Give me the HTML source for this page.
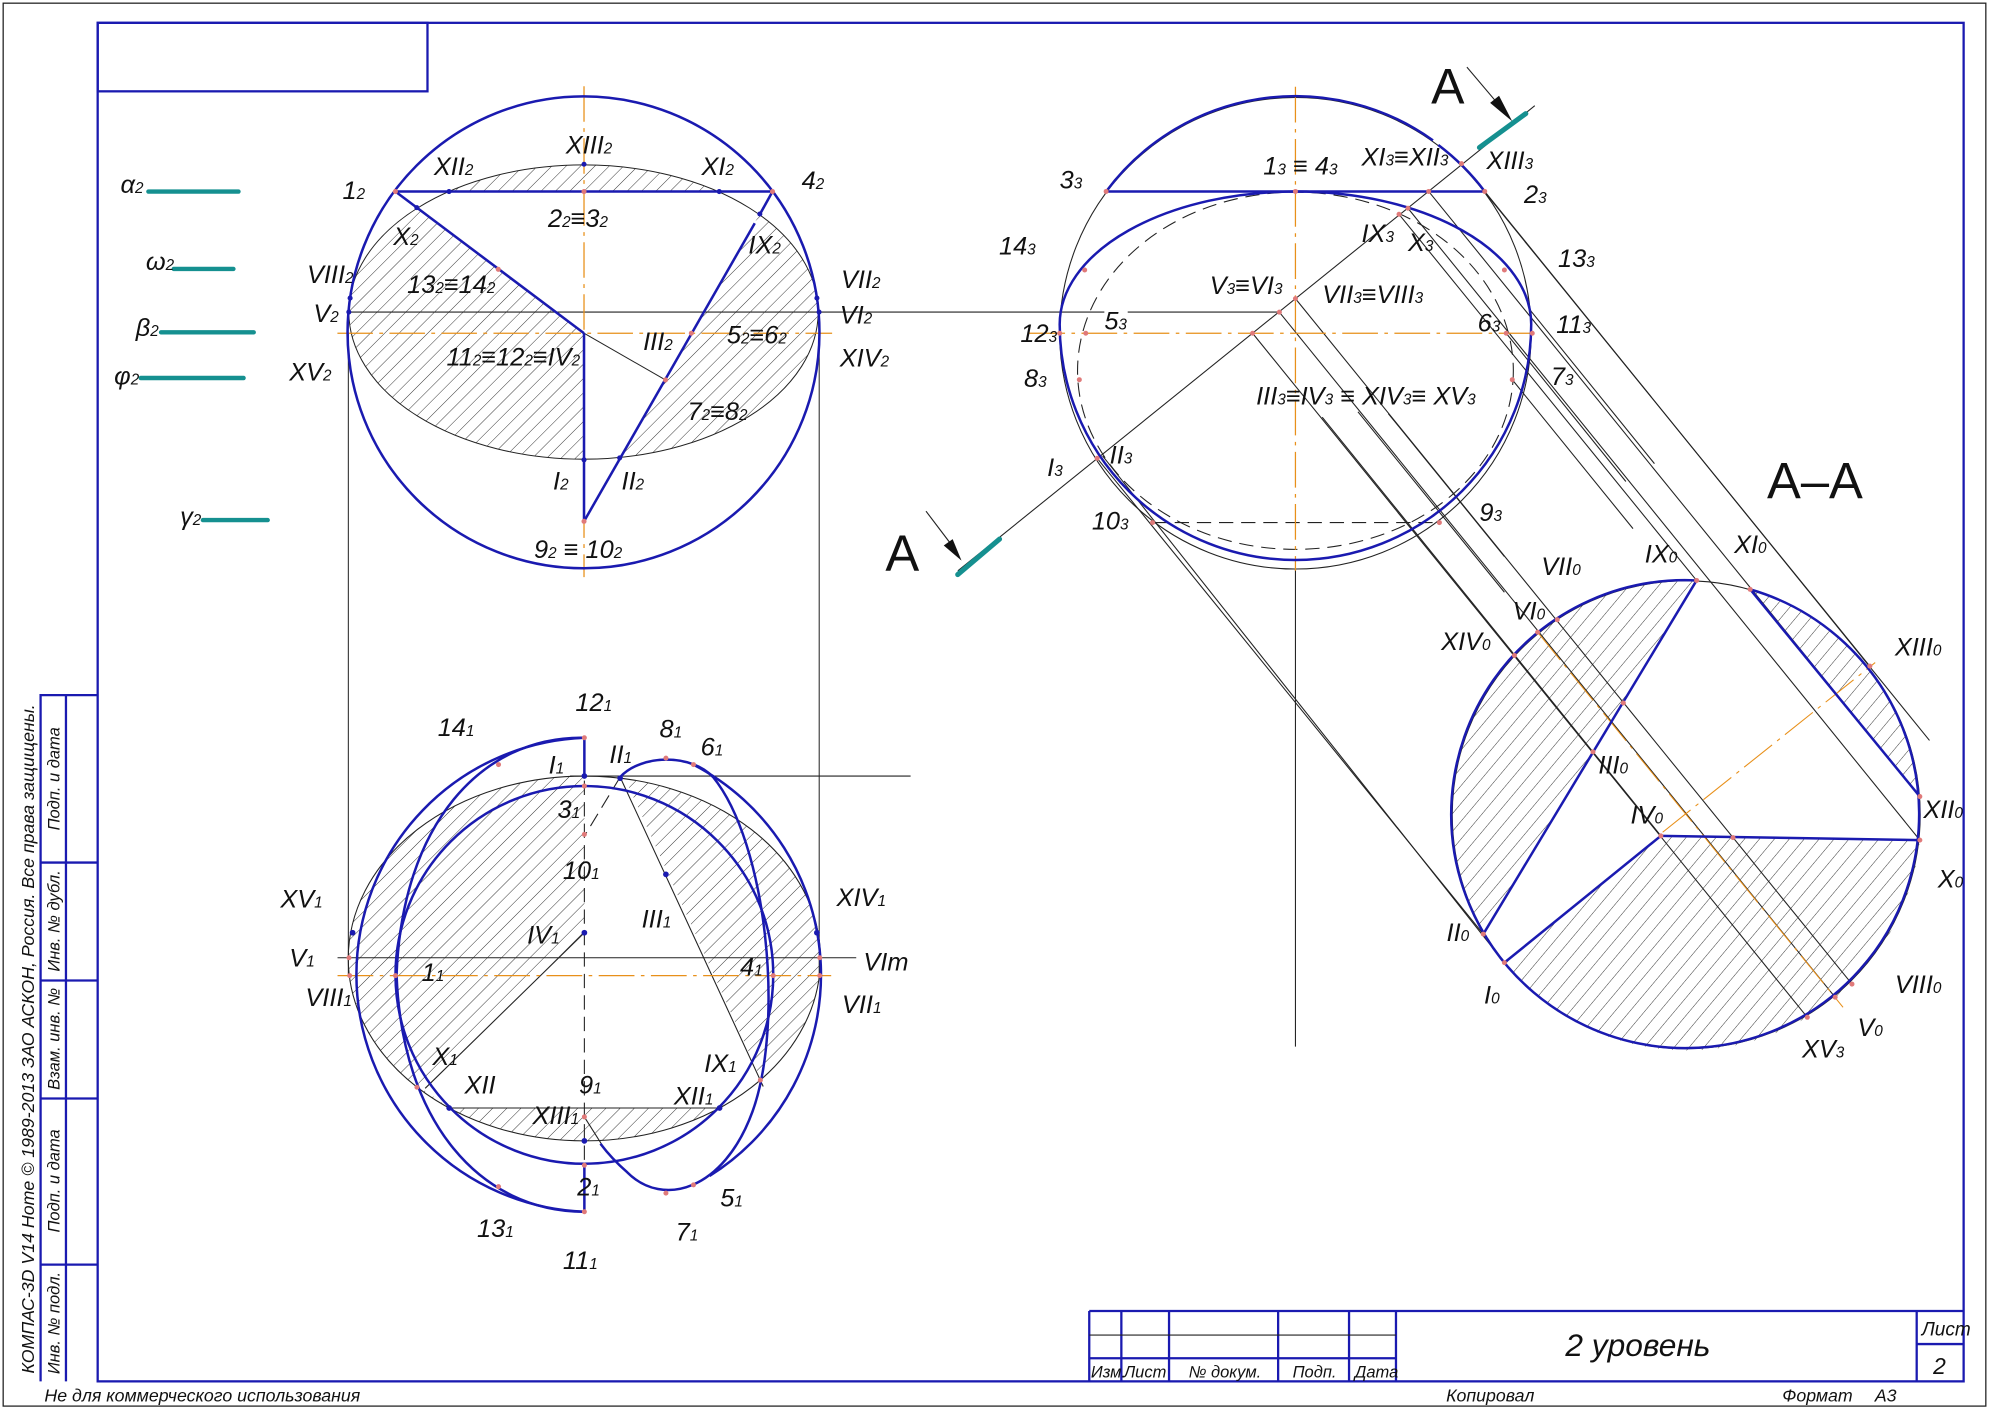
<!DOCTYPE html>
<html><head><meta charset="utf-8">
<style>
html,body{margin:0;padding:0;background:#fff;}
svg{display:block;}
text{font-family:"Liberation Sans Narrow","Liberation Sans",sans-serif;font-style:italic;fill:#111;}
</style></head>
<body>
<svg width="1989" height="1408" viewBox="0 0 1568 1110" preserveAspectRatio="none" xmlns="http://www.w3.org/2000/svg">
<defs>
<pattern id="hd" width="8" height="8" patternUnits="userSpaceOnUse" patternTransform="rotate(45)"><line x1="0" y1="0" x2="0" y2="8" stroke="#222" stroke-width="0.7"/></pattern>
<pattern id="hz" width="28" height="28" patternUnits="userSpaceOnUse" patternTransform="rotate(45)"><line x1="0" y1="0" x2="0" y2="28" stroke="#222" stroke-width="2.5"/></pattern>
<pattern id="hs" width="32" height="32" patternUnits="userSpaceOnUse" patternTransform="rotate(40)"><line x1="0" y1="0" x2="0" y2="32" stroke="#222" stroke-width="2.5"/></pattern>
<clipPath id="fEll"><ellipse cx="460" cy="246" rx="185" ry="116"/></clipPath>
<clipPath id="tEll"><ellipse cx="740" cy="722" rx="660" ry="510"/></clipPath>
<mask id="tMask" maskUnits="userSpaceOnUse" x="-200" y="-200" width="2000" height="2000"><rect x="-200" y="-200" width="2000" height="2000" fill="#fff"/><polygon points="740,200 845,200 1235,1062 1118,1140 362,1140 285,1085 740,650" fill="#000"/></mask>
</defs>
<rect width="1568" height="1110" fill="#fff"/>
<!-- outer thin frame -->
<rect x="2.5" y="2.5" width="1563" height="1106" fill="none" stroke="#222" stroke-width="1"/>
<!-- main blue frame -->
<g stroke="#1a1ab0" stroke-width="1.8" fill="none">
<rect x="77" y="18" width="1471" height="1071"/>
<rect x="77" y="18" width="260" height="54"/>
<!-- left column -->
<polyline points="77,548 32,548 32,1089"/>
<line x1="52" y1="548" x2="52" y2="1089"/>
<line x1="32" y1="680" x2="77" y2="680"/>
<line x1="32" y1="773" x2="77" y2="773"/>
<line x1="32" y1="866" x2="77" y2="866"/>
<line x1="32" y1="997" x2="77" y2="997"/>
<!-- title block -->
<line x1="858.7" y1="1033.5" x2="1548" y2="1033.5"/>
<line x1="858.7" y1="1033.5" x2="858.7" y2="1089"/>
<line x1="884" y1="1033.5" x2="884" y2="1089"/>
<line x1="921.6" y1="1033.5" x2="921.6" y2="1089"/>
<line x1="1007.6" y1="1033.5" x2="1007.6" y2="1089"/>
<line x1="1063.5" y1="1033.5" x2="1063.5" y2="1089"/>
<line x1="1100.5" y1="1033.5" x2="1100.5" y2="1089"/>
<line x1="858.7" y1="1070.8" x2="1100.5" y2="1070.8"/>
<line x1="1511" y1="1033.5" x2="1511" y2="1089"/>
<line x1="1511" y1="1059.6" x2="1548" y2="1059.6"/>
</g>
<line x1="858.7" y1="1052.5" x2="1100.5" y2="1052.5" stroke="#222" stroke-width="0.9"/>
<g font-size="13">
<text x="860" y="1086">Изм.</text><text x="886" y="1086">Лист</text><text x="937" y="1086">№ докум.</text><text x="1019" y="1086">Подп.</text><text x="1068" y="1086">Дата</text>
</g>
<text x="1234" y="1069" font-size="25">2 уровень</text>
<text x="1515" y="1053" font-size="15">Лист</text>
<text x="1524" y="1083" font-size="18">2</text>
<text x="35" y="1105" font-size="14">Не для коммерческого использования</text>
<text x="1140" y="1105" font-size="14">Копировал</text>
<text x="1405" y="1105" font-size="14">Формат</text>
<text x="1478" y="1105" font-size="14">A3</text>
<!-- rotated column texts -->
<g font-size="13" text-anchor="middle">
<text transform="translate(27,819) rotate(-90)" font-size="14">КОМПАС-3D V14 Home © 1989-2013 ЗАО АСКОН, Россия. Все права защищены.</text>
<text transform="translate(47,1043) rotate(-90)">Инв. № подл.</text>
<text transform="translate(47,931) rotate(-90)">Подп. и дата</text>
<text transform="translate(47,819) rotate(-90)">Взам. инв. №</text>
<text transform="translate(47,726) rotate(-90)">Инв. № дубл.</text>
<text transform="translate(47,614) rotate(-90)">Подп. и дата</text>
</g>

<!-- legend -->
<g stroke="#159090" stroke-width="3.5" stroke-linecap="round">
<line x1="117" y1="151" x2="188" y2="151"/>
<line x1="137" y1="212" x2="184" y2="212"/>
<line x1="127" y1="262" x2="200" y2="262"/>
<line x1="111" y1="298" x2="192" y2="298"/>
<line x1="160" y1="410" x2="211" y2="410"/>
</g>
<g font-size="20">
<text x="95" y="152">α<tspan font-size="12">2</tspan></text>
<text x="115" y="213">ω<tspan font-size="12">2</tspan></text>
<text x="107" y="265">β<tspan font-size="12">2</tspan></text>
<text x="90" y="303">φ<tspan font-size="12">2</tspan></text>
<text x="142" y="414">γ<tspan font-size="12">2</tspan></text>
</g>

<!-- ============ FRONT VIEW ============ -->
<g clip-path="url(#fEll)">
<rect x="270" y="100" width="390" height="51" fill="url(#hd)"/>
<polygon points="270,151 311.7,151 460.4,262.7 460.4,380 270,380" fill="url(#hd)"/>
<polygon points="609,151 460.4,411 700,411 700,140" fill="url(#hd)"/>
</g>
<ellipse cx="460" cy="246" rx="185" ry="116" fill="none" stroke="#222" stroke-width="0.8"/>
<line x1="274.6" y1="262" x2="274.6" y2="770" stroke="#222" stroke-width="0.8"/>
<line x1="645.8" y1="246" x2="645.8" y2="770" stroke="#222" stroke-width="0.8"/>
<line x1="274.6" y1="246" x2="870.6" y2="246" stroke="#222" stroke-width="0.9"/>
<line x1="889" y1="246" x2="1008.6" y2="246" stroke="#222" stroke-width="0.9"/>
<line x1="266" y1="262.7" x2="656" y2="262.7" stroke="#e8901a" stroke-width="1" stroke-dasharray="28,5,3,5"/>
<line x1="460.4" y1="68" x2="460.4" y2="455" stroke="#e8901a" stroke-width="1" stroke-dasharray="28,5,3,5"/>
<line x1="460.4" y1="262.7" x2="524.6" y2="299.5" stroke="#222" stroke-width="0.8"/>
<circle cx="460" cy="262" r="186" fill="none" stroke="#1a1ab0" stroke-width="2"/>
<g stroke="#1a1ab0" stroke-width="2" fill="none">
<line x1="311.7" y1="151" x2="609" y2="151"/>
<line x1="311.7" y1="151" x2="460.4" y2="262.7"/>
<line x1="460.4" y1="262.7" x2="460.4" y2="411"/>
<line x1="609" y1="151" x2="599" y2="169"/>
<line x1="595" y1="176" x2="460.4" y2="411"/>
</g>
<g fill="#1a1ab0">
<circle cx="354" cy="151" r="2"/><circle cx="567" cy="151" r="2"/><circle cx="460.4" cy="129.5" r="2"/>
<circle cx="328.6" cy="163.7" r="2"/><circle cx="599" cy="168.7" r="2"/><circle cx="276" cy="235" r="2"/>
<circle cx="644" cy="235" r="2"/><circle cx="275" cy="246" r="2"/><circle cx="645.7" cy="246" r="2"/>
<circle cx="488.5" cy="361" r="2"/><circle cx="460.4" cy="362.5" r="2"/>
</g>
<g fill="#e07a7a"><circle cx="311.7" cy="151" r="2"/><circle cx="609" cy="151" r="2"/><circle cx="460.4" cy="151" r="2"/><circle cx="392.8" cy="212.3" r="2"/><circle cx="545" cy="262.7" r="2"/><circle cx="524.6" cy="299.5" r="2"/><circle cx="460.4" cy="411" r="2"/></g>
<g font-size="20">
<text x="270" y="157">1<tspan font-size="12">2</tspan></text>
<text x="342" y="138">XII<tspan font-size="12">2</tspan></text>
<text x="446" y="121">XIII<tspan font-size="12">2</tspan></text>
<text x="553" y="138">XI<tspan font-size="12">2</tspan></text>
<text x="632" y="149">4<tspan font-size="12">2</tspan></text>
<text x="432" y="179">2<tspan font-size="12">2</tspan>≡3<tspan font-size="12">2</tspan></text>
<text x="310" y="193">X<tspan font-size="12">2</tspan></text>
<text x="590" y="200">IX<tspan font-size="12">2</tspan></text>
<text x="242" y="223">VIII<tspan font-size="12">2</tspan></text>
<text x="321" y="231">13<tspan font-size="12">2</tspan>≡14<tspan font-size="12">2</tspan></text>
<text x="663" y="227">VII<tspan font-size="12">2</tspan></text>
<text x="247" y="254">V<tspan font-size="12">2</tspan></text>
<text x="662" y="255">VI<tspan font-size="12">2</tspan></text>
<text x="507" y="276">III<tspan font-size="12">2</tspan></text>
<text x="573" y="271">5<tspan font-size="12">2</tspan>≡6<tspan font-size="12">2</tspan></text>
<text x="228" y="300">XV<tspan font-size="12">2</tspan></text>
<text x="352" y="288">11<tspan font-size="12">2</tspan>≡12<tspan font-size="12">2</tspan>≡IV<tspan font-size="12">2</tspan></text>
<text x="662" y="289">XIV<tspan font-size="12">2</tspan></text>
<text x="542" y="331">7<tspan font-size="12">2</tspan>≡8<tspan font-size="12">2</tspan></text>
<text x="436" y="386">I<tspan font-size="12">2</tspan></text>
<text x="490" y="386">II<tspan font-size="12">2</tspan></text>
<text x="421" y="440">9<tspan font-size="12">2</tspan> ≡ 10<tspan font-size="12">2</tspan></text>
</g>

<!-- ============ TOP VIEW ============ -->
<g transform="translate(252,552) scale(0.282)">
<g clip-path="url(#tEll)"><rect x="0" y="150" width="1500" height="1150" fill="url(#hz)" mask="url(#tMask)"/></g>
<ellipse cx="740" cy="722" rx="660" ry="510" fill="none" stroke="#222" stroke-width="3"/>
<g stroke="#222" stroke-width="3" fill="none">
<line x1="50" y1="720" x2="1500" y2="720"/>
<line x1="700" y1="212" x2="1652" y2="212"/>
<line x1="840" y1="215" x2="1240" y2="1080"/>
<line x1="740" y1="650" x2="295" y2="1085"/>
<line x1="362" y1="1140" x2="1118" y2="1140"/>
<line x1="740" y1="1165" x2="800" y2="1260"/>
<line x1="840" y1="215" x2="740" y2="380" stroke-dasharray="40,20"/>
<line x1="740" y1="105" x2="740" y2="1430" stroke-dasharray="40,20"/>
</g>
<line x1="50" y1="770" x2="1430" y2="770" stroke="#e8901a" stroke-width="3.5" stroke-dasharray="100,18,10,18"/>
<g stroke="#1a1ab0" stroke-width="7" fill="none">
<path d="M740,105 A663,663 0 0 0 740,1430"/>
<path d="M1045,180 A663,663 0 0 1 1090,1330"/>
<circle cx="740" cy="768" r="528"/>
<path d="M740,105 C450,100 230,350 215,768 C230,1180 450,1430 740,1430"/>
<path d="M840,215 C900,150 1040,150 1100,215 C1250,400 1300,900 1210,1150 C1130,1370 960,1420 860,1320 C820,1285 800,1260 785,1240"/>
<line x1="740" y1="105" x2="740" y2="212"/>
<line x1="740" y1="1295" x2="740" y2="1430"/>
</g>
<g fill="#1a1ab0"><circle cx="740" cy="212" r="8"/><circle cx="840" cy="218" r="8"/><circle cx="968" cy="487" r="8"/><circle cx="740" cy="650" r="8"/><circle cx="92" cy="650" r="8"/><circle cx="1390" cy="650" r="8"/><circle cx="362" cy="1140" r="8"/><circle cx="1118" cy="1140" r="8"/><circle cx="740" cy="1232" r="8"/></g>
<g fill="#e07a7a"><circle cx="740" cy="105" r="7"/><circle cx="740" cy="1430" r="7"/><circle cx="740" cy="1300" r="7"/><circle cx="740" cy="375" r="7"/><circle cx="740" cy="240" r="7"/><circle cx="968" cy="162" r="7"/><circle cx="968" cy="1378" r="7"/><circle cx="1045" cy="180" r="7"/><circle cx="1045" cy="1355" r="7"/><circle cx="500" cy="180" r="7"/><circle cx="500" cy="1360" r="7"/><circle cx="272" cy="1082" r="7"/><circle cx="1232" cy="1062" r="7"/><circle cx="82" cy="720" r="7"/><circle cx="84" cy="770" r="7"/><circle cx="212" cy="770" r="7"/><circle cx="1268" cy="770" r="7"/><circle cx="1398" cy="720" r="7"/><circle cx="1398" cy="770" r="7"/><circle cx="740" cy="1165" r="7"/></g>
<g font-size="71">
<text x="715" y="30">12<tspan font-size="43">1</tspan></text>
<text x="330" y="100">14<tspan font-size="43">1</tspan></text>
<text x="950" y="105">8<tspan font-size="43">1</tspan></text>
<text x="1065" y="155">6<tspan font-size="43">1</tspan></text>
<text x="810" y="175">II<tspan font-size="43">1</tspan></text>
<text x="640" y="205">I<tspan font-size="43">1</tspan></text>
<text x="665" y="330">3<tspan font-size="43">1</tspan></text>
<text x="680" y="500">10<tspan font-size="43">1</tspan></text>
<text x="1445" y="575">XIV<tspan font-size="43">1</tspan></text>
<text x="900" y="635">III<tspan font-size="43">1</tspan></text>
<text x="580" y="680">IV<tspan font-size="43">1</tspan></text>
<text x="1520" y="755">VIт</text>
<text x="285" y="785">1<tspan font-size="43">1</tspan></text>
<text x="1175" y="770">4<tspan font-size="43">1</tspan></text>
<text x="1460" y="875">VII<tspan font-size="43">1</tspan></text>
<text x="-40" y="855">VIII<tspan font-size="43">1</tspan></text>
<text x="-110" y="580">XV<tspan font-size="43">1</tspan></text>
<text x="-85" y="745">V<tspan font-size="43">1</tspan></text>
<text x="315" y="1020">X<tspan font-size="43">1</tspan></text>
<text x="1075" y="1040">IX<tspan font-size="43">1</tspan></text>
<text x="405" y="1100">XII</text>
<text x="725" y="1100">9<tspan font-size="43">1</tspan></text>
<text x="990" y="1130">XII<tspan font-size="43">1</tspan></text>
<text x="595" y="1185">XIII<tspan font-size="43">1</tspan></text>
<text x="720" y="1385">2<tspan font-size="43">1</tspan></text>
<text x="1120" y="1415">5<tspan font-size="43">1</tspan></text>
<text x="440" y="1500">13<tspan font-size="43">1</tspan></text>
<text x="995" y="1510">7<tspan font-size="43">1</tspan></text>
<text x="680" y="1590">11<tspan font-size="43">1</tspan></text>
</g>
</g>

<!-- ============ RIGHT VIEW + SECTION ============ -->
<g transform="translate(819.9,47.3) scale(0.2816)">
<!-- section hatch -->
<path d="M1838,1457 A655,655 0 0 0 1241,2447 Z" fill="url(#hs)"/>
<path d="M1988,1482 A655,655 0 0 1 2463,2062 Z" fill="url(#hs)"/>
<path d="M1738,2172 L2463,2184 A655,655 0 0 1 1300,2527 Z" fill="url(#hs)"/>
<g stroke="#222" stroke-width="3" fill="none">
<circle cx="715" cy="765" r="660"/>
<circle cx="1809" cy="2113" r="655"/>
<line x1="1088" y1="368" x2="2463" y2="2062"/>
<line x1="1180" y1="290" x2="2323" y2="1697"/>
<line x1="1005" y1="432" x2="1838" y2="1457"/>
<line x1="1030" y1="415" x2="2463" y2="2184"/>
<line x1="715" y1="668" x2="2273" y2="2587"/>
<line x1="670" y1="706" x2="2226" y2="2624"/>
<line x1="595" y1="765" x2="2148" y2="2680"/>
<line x1="160" y1="1115" x2="1241" y2="2447"/>
<line x1="175" y1="1108" x2="1300" y2="2527"/>
<line x1="790" y1="1000" x2="1738" y2="2172"/>
<line x1="1245" y1="368" x2="2490" y2="1905"/>
<line x1="1305" y1="765" x2="1640" y2="1180"/>
<line x1="1322" y1="895" x2="1660" y2="1312"/>
<line x1="1372" y1="700" x2="1720" y2="1130"/>
<line x1="975" y1="990" x2="1300" y2="1390"/>
<line x1="890" y1="985" x2="1300" y2="1490"/>
<line x1="-230" y1="1430" x2="1385" y2="128"/>
<line x1="715" y1="1425" x2="715" y2="2762"/>
<line x1="315" y1="1295" x2="1118" y2="1295" stroke-dasharray="40,22"/>
<ellipse cx="715" cy="870" rx="610" ry="500" stroke-dasharray="40,22"/>
<line x1="1195" y1="20" x2="1305" y2="150"/>
</g>
<polygon points="1322,172 1260,120 1285,100" fill="#111"/>
<line x1="1230" y1="245" x2="1360" y2="150" stroke="#159090" stroke-width="14" stroke-linecap="round"/>
<line x1="-30" y1="765" x2="1395" y2="765" stroke="#e8901a" stroke-width="3.5" stroke-dasharray="100,18,10,18"/>
<line x1="715" y1="75" x2="715" y2="1430" stroke="#e8901a" stroke-width="3.5" stroke-dasharray="100,18,10,18"/>
<line x1="1393" y1="1602" x2="2248" y2="2652" stroke="#e8901a" stroke-width="3" stroke-dasharray="100,18,10,18"/>
<line x1="1743" y1="2162" x2="2338" y2="1687" stroke="#e8901a" stroke-width="3" stroke-dasharray="100,18,10,18"/>
<g stroke="#1a1ab0" stroke-width="7" fill="none">
<path d="M185,368 A660,660 0 0 1 1100,225"/>
<path d="M1115,238 A660,660 0 0 1 1245,368"/>
<line x1="185" y1="368" x2="1245" y2="368"/>
<path d="M55,740 A660,372 0 0 1 1375,740 A660,660 0 0 1 55,740"/>
<path d="M1988,1482 A655,655 0 1 1 1838,1457"/>
<path d="M1838,1457 L1241,2447"/>
<path d="M1988,1482 L2463,2062"/>
<path d="M1738,2172 L2463,2184"/>
<path d="M1738,2172 L1300,2527"/>
</g>
<g fill="#e07a7a"><circle cx="185" cy="368" r="7"/><circle cx="1245" cy="368" r="7"/><circle cx="715" cy="368" r="7"/><circle cx="1088" cy="368" r="7"/><circle cx="1180" cy="290" r="7"/><circle cx="1005" cy="432" r="7"/><circle cx="1030" cy="415" r="7"/><circle cx="715" cy="668" r="7"/><circle cx="670" cy="706" r="7"/><circle cx="595" cy="765" r="7"/><circle cx="160" cy="1115" r="7"/><circle cx="125" cy="588" r="7"/><circle cx="1300" cy="588" r="7"/><circle cx="128" cy="765" r="7"/><circle cx="55" cy="765" r="7"/><circle cx="1305" cy="765" r="7"/><circle cx="1378" cy="765" r="7"/><circle cx="110" cy="895" r="7"/><circle cx="1322" cy="895" r="7"/><circle cx="315" cy="1295" r="7"/><circle cx="1118" cy="1295" r="7"/>
<circle cx="1838" cy="1457" r="7"/><circle cx="1988" cy="1482" r="7"/><circle cx="2323" cy="1697" r="7"/><circle cx="2463" cy="2062" r="7"/><circle cx="2463" cy="2184" r="7"/><circle cx="1738" cy="2172" r="7"/><circle cx="1300" cy="2527" r="7"/><circle cx="1241" cy="2447" r="7"/><circle cx="1548" cy="1937" r="7"/><circle cx="1448" cy="1567" r="7"/><circle cx="1328" cy="1667" r="7"/><circle cx="1393" cy="1602" r="7"/><circle cx="2273" cy="2587" r="7"/><circle cx="2226" cy="2624" r="7"/><circle cx="2148" cy="2680" r="7"/><circle cx="1940" cy="2177" r="7"/><circle cx="1633" cy="1800" r="7"/></g>
<text x="1095" y="122" font-size="140" style="font-style:normal">A</text>
<g font-size="71">
<text x="55" y="360">3<tspan font-size="43">3</tspan></text>
<text x="625" y="320">1<tspan font-size="43">3</tspan> ≡ 4<tspan font-size="43">3</tspan></text>
<text x="900" y="295">XI<tspan font-size="43">3</tspan>≡XII<tspan font-size="43">3</tspan></text>
<text x="1250" y="305">XIII<tspan font-size="43">3</tspan></text>
<text x="1355" y="400">2<tspan font-size="43">3</tspan></text>
<text x="-115" y="545">14<tspan font-size="43">3</tspan></text>
<text x="900" y="510">IX<tspan font-size="43">3</tspan></text>
<text x="1030" y="535">X<tspan font-size="43">3</tspan></text>
<text x="1450" y="580">13<tspan font-size="43">3</tspan></text>
<text x="475" y="655">V<tspan font-size="43">3</tspan>≡VI<tspan font-size="43">3</tspan></text>
<text x="790" y="680">VII<tspan font-size="43">3</tspan>≡VIII<tspan font-size="43">3</tspan></text>
<text x="180" y="755">5<tspan font-size="43">3</tspan></text>
<text x="1225" y="760">6<tspan font-size="43">3</tspan></text>
<text x="1445" y="765">11<tspan font-size="43">3</tspan></text>
<text x="-55" y="790">12<tspan font-size="43">3</tspan></text>
<text x="-45" y="915">8<tspan font-size="43">3</tspan></text>
<text x="1430" y="910">7<tspan font-size="43">3</tspan></text>
<text x="605" y="965">III<tspan font-size="43">3</tspan>≡IV<tspan font-size="43">3</tspan> ≡ XIV<tspan font-size="43">3</tspan>≡ XV<tspan font-size="43">3</tspan></text>
<text x="20" y="1165">I<tspan font-size="43">3</tspan></text>
<text x="195" y="1130">II<tspan font-size="43">3</tspan></text>
<text x="145" y="1315">10<tspan font-size="43">3</tspan></text>
<text x="1230" y="1290">9<tspan font-size="43">3</tspan></text>
<text x="1693" y="1407">IX<tspan font-size="43">0</tspan></text>
<text x="1943" y="1380">XI<tspan font-size="43">0</tspan></text>
<text x="1403" y="1442">VII<tspan font-size="43">0</tspan></text>
<text x="1323" y="1567">VI<tspan font-size="43">0</tspan></text>
<text x="1123" y="1652">XIV<tspan font-size="43">0</tspan></text>
<text x="2393" y="1667">XIII<tspan font-size="43">0</tspan></text>
<text x="1563" y="1997">III<tspan font-size="43">0</tspan></text>
<text x="1653" y="2137">IV<tspan font-size="43">0</tspan></text>
<text x="2473" y="2122">XII<tspan font-size="43">0</tspan></text>
<text x="2513" y="2317">X<tspan font-size="43">0</tspan></text>
<text x="1138" y="2467">II<tspan font-size="43">0</tspan></text>
<text x="1243" y="2642">I<tspan font-size="43">0</tspan></text>
<text x="2393" y="2612">VIII<tspan font-size="43">0</tspan></text>
<text x="2288" y="2732">V<tspan font-size="43">0</tspan></text>
<text x="2133" y="2792">XV<tspan font-size="43">3</tspan></text>
</g>
</g>

<!-- bottom A arrow -->
<line x1="730" y1="403" x2="752" y2="432" stroke="#222" stroke-width="0.9"/>
<polygon points="758,442 744,430 751,425" fill="#111"/>
<line x1="755" y1="453" x2="788" y2="425" stroke="#159090" stroke-width="4" stroke-linecap="round"/>
<text x="698" y="450" font-size="40" style="font-style:normal">A</text>
<text x="1393" y="393" font-size="40" style="font-style:normal">A–A</text>
</svg>
</body></html>
